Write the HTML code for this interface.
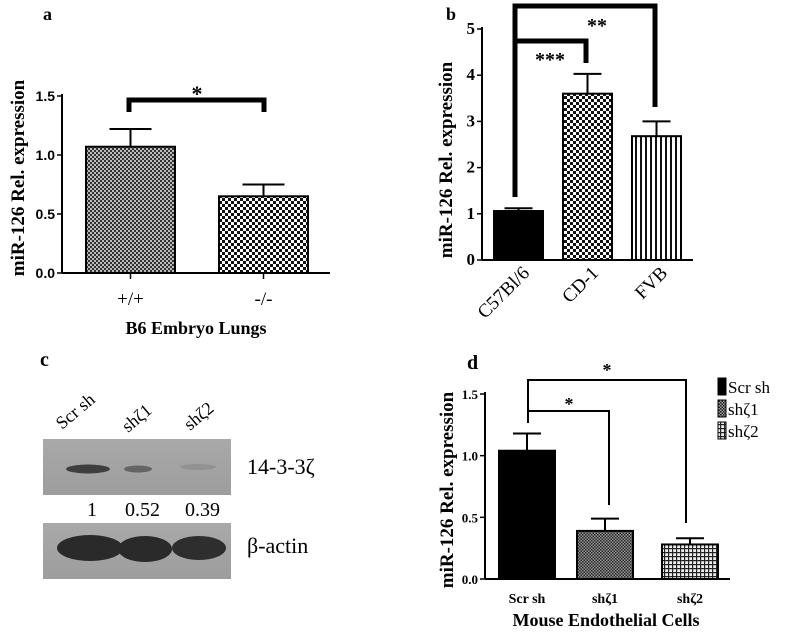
<!DOCTYPE html>
<html><head><meta charset="utf-8"><style>
html,body{margin:0;padding:0;background:#fff;}
svg{display:block;font-family:"Liberation Serif","DejaVu Serif",serif;}
</style></head><body>
<svg id="fig" width="785" height="634" viewBox="0 0 785 634" xmlns="http://www.w3.org/2000/svg">
<defs>
<pattern id="chkA" width="4" height="4" patternUnits="userSpaceOnUse"><rect width="4" height="4" fill="#bbb"/><rect width="2" height="2" fill="#333"/><rect x="2" y="2" width="2" height="2" fill="#333"/></pattern>
<pattern id="chkB" width="6" height="6" patternUnits="userSpaceOnUse"><rect width="6" height="6" fill="#fff"/><rect width="3" height="3" fill="#111"/><rect x="3" y="3" width="3" height="3" fill="#111"/></pattern>
<pattern id="vstr" width="5" height="5" patternUnits="userSpaceOnUse"><rect width="5" height="5" fill="#fff"/><rect width="2" height="5" fill="#111"/></pattern>
<pattern id="fchk" width="3" height="3" patternUnits="userSpaceOnUse"><rect width="3" height="3" fill="#999"/><rect width="1.5" height="1.5" fill="#222"/><rect x="1.5" y="1.5" width="1.5" height="1.5" fill="#222"/></pattern>
<pattern id="grid" width="4" height="4" patternUnits="userSpaceOnUse"><rect width="4" height="4" fill="#eee"/><rect width="4" height="1.2" fill="#222"/><rect width="1.2" height="4" fill="#222"/></pattern>
<linearGradient id="blot" x1="0" x2="0" y1="0" y2="1"><stop offset="0" stop-color="#a9a9a9"/><stop offset="1" stop-color="#9d9d9d"/></linearGradient>
</defs>
<g id="pa"></g>
<g id="pb"></g>
<g id="pd"></g>
<g id="pc">
  <text x="40" y="366" font-size="20" font-weight="bold">c</text>
  <text transform="translate(62,430) rotate(-40)" font-size="18">Scr sh</text>
  <text transform="translate(128,433) rotate(-40)" font-size="18">shζ1</text>
  <text transform="translate(190,431) rotate(-40)" font-size="18">shζ2</text>
  <rect x="43" y="439" width="188" height="56" fill="url(#blot)"/>
  <ellipse cx="88" cy="469" rx="22" ry="4.5" fill="#333" opacity="0.9"/>
  <ellipse cx="138" cy="469" rx="14" ry="3.5" fill="#555" opacity="0.8"/>
  <ellipse cx="198" cy="467" rx="18" ry="3" fill="#8a8a8a" opacity="0.7"/>
  <text x="247" y="474" font-size="22">14-3-3ζ</text>
  <text x="87" y="516" font-size="20">1</text>
  <text x="125" y="516" font-size="20">0.52</text>
  <text x="185" y="516" font-size="20">0.39</text>
  <rect x="43" y="523" width="188" height="56" fill="url(#blot)"/>
  <ellipse cx="90" cy="548" rx="33" ry="13" fill="#2a2a2a"/>
  <ellipse cx="145" cy="549" rx="27" ry="13" fill="#2a2a2a"/>
  <ellipse cx="199" cy="548" rx="27" ry="12" fill="#2e2e2e"/>
  <text x="247" y="553" font-size="22">β-actin</text>
</g>
<script>
var NS="http://www.w3.org/2000/svg";
function mk(p,t,a,txt){var e=document.createElementNS(NS,t);for(var k in a)e.setAttribute(k,a[k]);if(txt!=null)e.textContent=txt;p.appendChild(e);return e;}

// Panel a data
var aCats=["+/+","-/-"];
var aVals=[1.07,0.65];
var aErrs=[0.15,0.10];
var aTicks=[0,0.5,1.0,1.5];
var aTickLabels=["0.0","0.5","1.0","1.5"];
// Panel b data
var bCats=["C57Bl/6","CD-1","FVB"];
var bVals=[1.06,3.6,2.68];
var bErrs=[0.06,0.43,0.32];
var bTicks=[0,1,2,3,4,5];
var bTickLabels=["0","1","2","3","4","5"];
// Panel d data
var dCats=["Scr sh","shζ1","shζ2"];
var dVals=[1.04,0.39,0.28];
var dErrs=[0.14,0.10,0.05];
var dTicks=[0,0.5,1.0,1.5];
var dTickLabels=["0.0","0.5","1.0","1.5"];

function panel(g,o){
  var y=function(v){return o.y0-(v-o.min)/(o.max-o.min)*(o.y0-o.y1);};
  var ax=mk(g,"line",{x1:o.ax,y1:o.y1-2,x2:o.ax,y2:o.y0,stroke:"#000","stroke-width":2});
  
  
  var xa=mk(g,"line",{x1:o.ax,y1:o.y0,x2:o.xend,y2:o.y0,stroke:"#000","stroke-width":2});
  
  
  o.ticks.forEach(function(t,i){
    var yy=y(t);
    var tl=mk(g,"line",{x1:o.ax-5,y1:yy,x2:o.ax,y2:yy,stroke:"#000","stroke-width":1.5});
    
    
    var tx=mk(g,"text",{x:o.ax-7,y:yy+5,"text-anchor":"end","font-size":o.tfs,"font-weight":"bold","font-family":o.tff},o.tickLabels[i]);
    
    
  });
  o.vals.forEach(function(v,i){
    var x=o.bx[i], w=o.bw;
    var r=mk(g,"rect",{x:x,y:y(v),width:w,height:o.y0-y(v),fill:o.fills[i],stroke:"#000","stroke-width":2});
    
    
    var cx=x+w/2, ye=y(v+o.errs[i]);
    var e1=mk(g,"line",{x1:cx,y1:y(v),x2:cx,y2:ye,stroke:"#000","stroke-width":2});
    
    
    var e2=mk(g,"line",{x1:cx-o.cap,y1:ye,x2:cx+o.cap,y2:ye,stroke:"#000","stroke-width":2});
    
    
    if(o.xtick){var xt=mk(g,"line",{x1:cx,y1:o.y0,x2:cx,y2:o.y0+6,stroke:"#000","stroke-width":1.5});
      
      }
    var lab;
    if(o.rot){lab=mk(g,"text",{transform:"translate("+(cx+12)+","+(o.y0+14)+") rotate(-45)","text-anchor":"end","font-size":o.cfs},o.cats[i]);}
    else{lab=mk(g,"text",{x:cx,y:o.ly,"text-anchor":"middle","font-size":o.cfs,"font-weight":o.cbold?"bold":"normal"},o.cats[i]);}
    
    
  });
  return y;
}
function path(g,d,w,name){var p=mk(g,"path",{d:d,fill:"none",stroke:"#000","stroke-width":w});}
function txt(g,x,yy,s,fs,name,extra){var a={x:x,y:yy,"font-size":fs};for(var k in extra)a[k]=extra[k];var t=mk(g,"text",a,s);return t;}

// Panel a
var ga=document.getElementById("pa");
panel(ga,{min:0,max:1.5,y0:273,y1:96,ax:62,xend:330,ticks:aTicks,tickLabels:aTickLabels,vals:aVals,errs:aErrs,cats:aCats,
  bx:[86,219],bw:89,fills:["url(#chkA)","url(#chkB)"],cap:21,xtick:true,ly:305,cfs:19,tfs:14,tff:"Liberation Sans"});
txt(ga,43,20,"a",18,"panel-a-label",{"font-weight":"bold"});
txt(ga,196,334,"B6 Embryo Lungs",18,"x-axis-title",{"text-anchor":"middle","font-weight":"bold"});
txt(ga,0,0,"miR-126 Rel. expression",19,"y-axis-title",{"text-anchor":"middle","font-weight":"bold",transform:"translate(24,178) rotate(-90)"});
path(ga,"M129,112 V100 H264 V112",5,"significance-bracket");
txt(ga,197,101,"*",22,"significance-star",{"text-anchor":"middle","font-weight":"bold"});

// Panel b
var gb=document.getElementById("pb");
panel(gb,{min:0,max:5,y0:260,y1:29,ax:482,xend:693,ticks:bTicks,tickLabels:bTickLabels,vals:bVals,errs:bErrs,cats:bCats,
  bx:[494,563,632],bw:49,fills:["#000","url(#chkB)","url(#vstr)"],cap:14,xtick:false,rot:true,cfs:19,tfs:17,tff:"Liberation Serif"});
txt(gb,446,20,"b",18,"panel-b-label",{"font-weight":"bold"});
txt(gb,0,0,"miR-126 Rel. expression",19,"y-axis-title",{"text-anchor":"middle","font-weight":"bold",transform:"translate(452,160) rotate(-90)"});
path(gb,"M515,197 V6 H655 V107",5,"significance-bracket-outer");
path(gb,"M515,41 H586 V63",5,"significance-bracket-inner");
txt(gb,550,66,"***",20,"significance-stars-inner",{"text-anchor":"middle","font-weight":"bold"});
txt(gb,597,32,"**",20,"significance-stars-outer",{"text-anchor":"middle","font-weight":"bold"});

// Panel d
var gd=document.getElementById("pd");
panel(gd,{min:0,max:1.5,y0:579,y1:394,ax:485,xend:730,ticks:dTicks,tickLabels:dTickLabels,vals:dVals,errs:dErrs,cats:dCats,
  bx:[499,577,662],bw:56,fills:["#000","url(#fchk)","url(#grid)"],cap:14,xtick:false,ly:603,cfs:14,cbold:true,tfs:13,tff:"Liberation Serif"});
txt(gd,467,369,"d",20,"panel-d-label",{"font-weight":"bold"});
txt(gd,606,626,"Mouse Endothelial Cells",18,"x-axis-title",{"text-anchor":"middle","font-weight":"bold"});
txt(gd,0,0,"miR-126 Rel. expression",19,"y-axis-title",{"text-anchor":"middle","font-weight":"bold",transform:"translate(453,490) rotate(-90)"});
path(gd,"M528,411 V380 H686 V523",2,"significance-bracket-outer");
path(gd,"M528,423 V411 H609 V505",2,"significance-bracket-inner");
txt(gd,607,376,"*",18,"significance-star-outer",{"text-anchor":"middle","font-weight":"bold"});
txt(gd,569,410,"*",18,"significance-star-inner",{"text-anchor":"middle","font-weight":"bold"});
var lg=mk(gd,"g",{});


var legFills=["#000","url(#fchk)","url(#grid)"];
dCats.forEach(function(c,i){
  var r=mk(lg,"rect",{x:718,y:378+i*22,width:8,height:17,fill:legFills[i],stroke:"#000","stroke-width":1});
  
  
  var t=mk(lg,"text",{x:728,y:393+i*22,"font-size":17},c);
  
  
});
</script>
</svg>
</body></html>
